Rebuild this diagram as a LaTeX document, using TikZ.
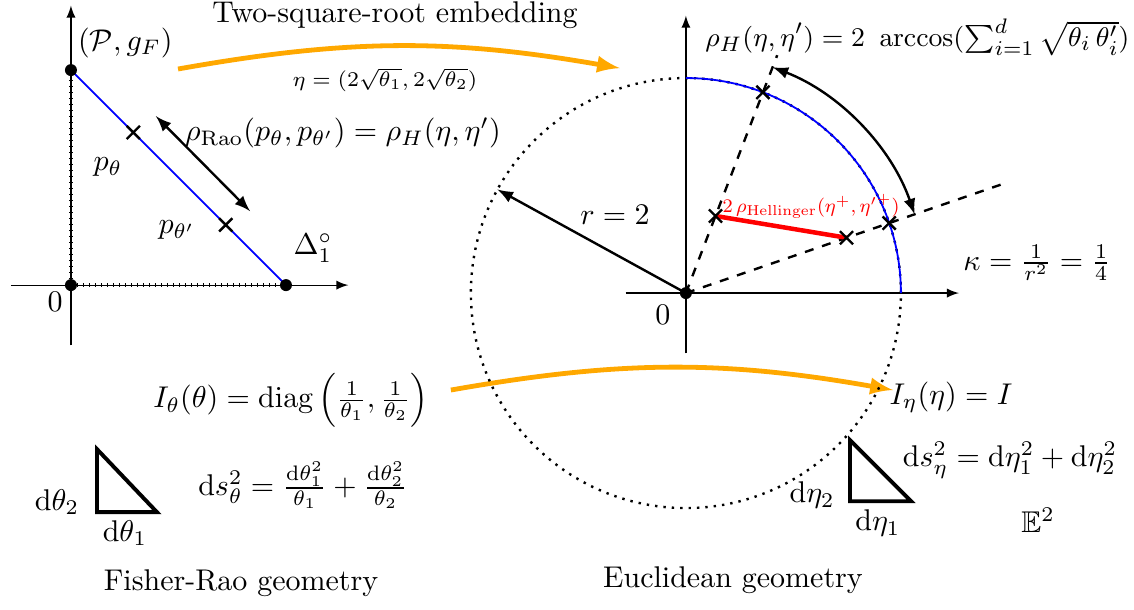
\documentclass[tikz,border=0pt]{standalone}
\usepackage{amsmath,amssymb}
\usepackage{tikz}
\usetikzlibrary{shapes.misc}
\usepackage{xcolor}
\definecolor{embedorange}{RGB}{255,168,0}
\tikzset{
  xmark/.style={draw, cross out, thick, minimum size=3.6pt, inner sep=0pt},
  dot/.style={circle, fill, inner sep=0pt, minimum size=4pt},
  embed/.style={embedorange, line width=1.6pt, -latex},
  ticked/.style={line width=1.2pt, dash pattern=on 0.5pt off 1.5pt},
}

\begin{document}
\begin{tikzpicture}[x=2.52cm, y=2.52cm]
  \useasboundingbox (-0.330,-1.507) rectangle (4.944,1.326);

  % Simplex: axis
  \draw[-latex] (-0.28,0) -- (1.29,0);
  \draw[-latex] (0,-0.28) -- (0,1.30);
  \draw[ticked] (0,0) -- (0,1);
  \draw[ticked] (0,0) -- (1,0);

  % Simplex: segment and points
  \draw[semithick, blue] (0,1) -- (1,0);
  \node[dot] (o1) at (0,0) {};
  \node[dot] (e2) at (0,1) {};
  \node[dot] (e1) at (1,0) {};
  \node[xmark] (pt) at (0.29,0.71) {};
  \node[xmark] (ptp) at (0.72,0.28) {};
  \draw[thick, latex-latex] (0.395,0.786) -- (0.833,0.344);

  % Simplex: labels
  \node (manifold) at (0.253,1.126) {$(\mathcal{P},g_F)$};
  \node (ptlab) at (0.172,0.549) {$p_\theta$};
  \node (ptplab) at (0.493,0.256) {$p_{\theta'}$};
  \node (simplex) at (1.126,0.172) {$\Delta_1^\circ$};
  \node (zero1) at (-0.074,-0.079) {$0$};
  \node (rao) at (1.265,0.707) {$\rho_{\mathrm{Rao}}(p_\theta,p_{\theta'})=\rho_H(\eta,\eta')$};

  % Embedding arrows
  \coordinate (embfrom) at (0.498,1.005);
  \coordinate (embto) at (2.553,1.009);
  \draw[embed] (embfrom) to[bend left=10] (embto);
  \node (embtitle) at (1.507,1.256) {Two-square-root embedding};
  \node[font=\scriptsize] (embmap) at (1.460,0.953) {$\eta=(2\sqrt{\theta_1},2\sqrt{\theta_2})$};

  \coordinate (metfrom) at (1.767,-0.488);
  \coordinate (metto) at (3.823,-0.488);
  \draw[embed] (metfrom) to[bend left=10] (metto);

  % Sphere of radius 2
  \begin{scope}[shift={(2.86,-0.037)}]
    \draw[-latex] (-0.28,0) -- (1.27,0);
    \draw[-latex] (0,-0.28) -- (0,1.29);
    \draw[thick, dotted] (0,0) circle[radius=1];
    \draw[semithick, blue] (1,0) arc[start angle=0, end angle=90, radius=1];
    \draw[thick, dashed] (0,0) -- (69:1.185);
    \draw[thick, dashed] (0,0) -- (19:1.555);
    \draw[thick, latex-latex] (69:1.125) arc[start angle=69, end angle=19, radius=1.125];
    \draw[thick, -latex] (0,0) -- (151.2:1);
    \draw[red, line width=1.5pt] (69:0.384) -- (19:0.79);
    \node[dot] (o2) at (0,0) {};
    \node[xmark] (eta) at (69:1) {};
    \node[xmark] (etap) at (19:1) {};
    \node[xmark] (etain) at (69:0.384) {};
    \node[xmark] (etapin) at (19:0.79) {};

    % Sphere: labels
    \node[red, font=\footnotesize, scale=0.8, transform shape, anchor=west, inner sep=0pt] (hell) at (0.168,0.404) {$2\,\rho_{\mathrm{Hellinger}}(\eta^+,{\eta'}^+)$};
    \node (radius) at (-0.330,0.363) {$r=2$};
    \node (zero2) at (-0.107,-0.102) {$0$};
    \node (kappa) at (1.633,0.140) {$\kappa=\frac{1}{r^2}=\frac{1}{4}$};
    \node[anchor=east, inner sep=0pt, font=\fontsize{9.3}{11}\selectfont] (hdist) at (2.066,1.19) {$\rho_H(\eta,\eta')=2\ \arccos(\sum_{i=1}^d\sqrt{\theta_i\,\theta'_i})$};
  \end{scope}

  % Metric tensors
  \node (fisher) at (1.023,-0.535) {$I_\theta(\theta)=\operatorname{diag}\left(\frac{1}{\theta_1},\frac{1}{\theta_2}\right)$};
  \node (eucl) at (4.093,-0.521) {$I_\eta(\eta)=I$};

  % Line elements
  \draw[line width=1.3pt] (0.121,-0.763) -- (0.121,-1.056) -- (0.400,-1.056) -- cycle;
  \node (dth2) at (-0.065,-1.009) {$\mathrm{d}\theta_2$};
  \node (dth1) at (0.251,-1.153) {$\mathrm{d}\theta_1$};
  \node (dstheta) at (1.079,-0.930) {$\mathrm{d}s_\theta^2=\frac{\mathrm{d}\theta_1^2}{\theta_1}+\frac{\mathrm{d}\theta_2^2}{\theta_2}$};

  \draw[line width=1.3pt] (3.623,-0.721) -- (3.623,-1.005) -- (3.907,-1.005) -- cycle;
  \node (deta2) at (3.447,-0.977) {$\mathrm{d}\eta_2$};
  \node (deta1) at (3.753,-1.107) {$\mathrm{d}\eta_1$};
  \node (dseta) at (4.367,-0.814) {$\mathrm{d}s_\eta^2=\mathrm{d}\eta_1^2+\mathrm{d}\eta_2^2$};
  \node (espace) at (4.498,-1.093) {$\mathbb{E}^2$};

  % Captions
  \node (fisherrao) at (0.791,-1.386) {Fisher-Rao geometry};
  \node (euclidean) at (3.079,-1.372) {Euclidean geometry};
\end{tikzpicture}
\end{document}
